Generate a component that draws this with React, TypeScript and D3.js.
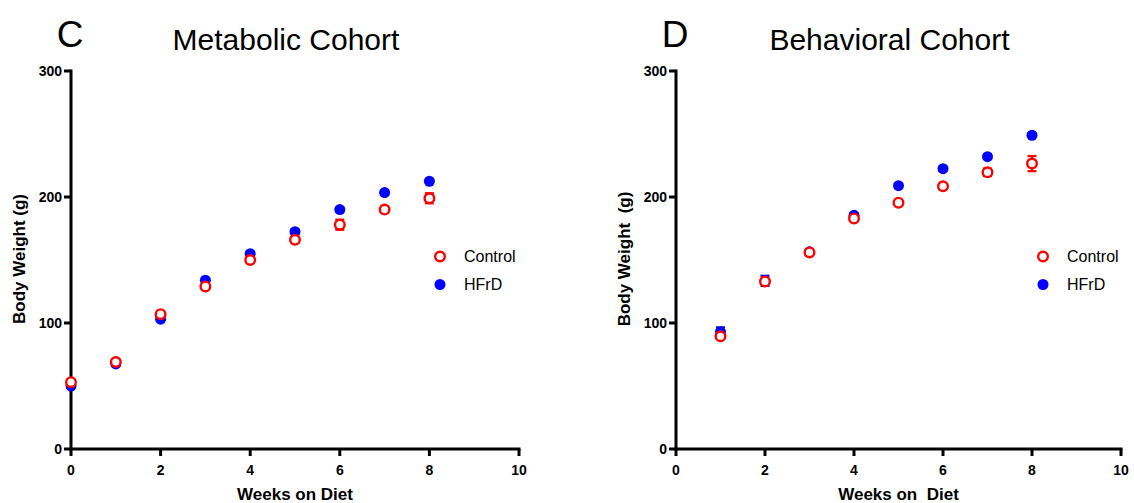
import React from "react";
import * as d3 from "d3";

const xTicks = [0, 2, 4, 6, 8, 10];
const yTicks = [0, 100, 200, 300];

const metWeeks = [0, 1, 2, 3, 4, 5, 6, 7, 8];
const metControl = [53, 69, 107, 129, 150, 166, 178, 190, 199];
const metControlErr = [2, 2, 2, 2, 2, 2, 4, 2, 4];
const metHFrD = [50, 67.5, 103, 134, 155, 172.5, 190, 203.5, 212.5];
const metHFrDErr = [1.5, 1.5, 1.5, 1.5, 1.5, 1.5, 1.5, 1.5, 1.5];

const behWeeks = [1, 2, 3, 4, 5, 6, 7, 8];
const behControl = [89.5, 133, 156, 183, 195.5, 208.5, 219.6, 226.5];
const behControlErr = [2, 2, 1.5, 2, 1.5, 1.5, 3, 6];
const behHFrD = [93, 133.5, 156.5, 185.5, 209, 222.5, 232, 249];
const behHFrDErr = [3.5, 4, 1.5, 1.5, 1.5, 1.5, 1.5, 1.5];

const seriesNames = ["Control", "HFrD"];

const RED = "#ff0000";
const BLUE = "#0000ff";
const FONT = "Arial, 'Liberation Sans', Helvetica, sans-serif";

type PanelProps = {
  x0: number;
  x1: number;
  letter: string;
  title: string;
  yLabel: string;
  xLabel: string;
  weeks: number[];
  control: number[];
  controlErr: number[];
  hfrd: number[];
  hfrdErr: number[];
  legendX: number;
};

function Panel(p: PanelProps) {
  const x = d3.scaleLinear().domain([0, 10]).range([p.x0, p.x1]);
  const y = d3.scaleLinear().domain([0, 300]).range([449, 71]);
  const aw = 3;
  const tl = 7;
  const cap = 4.5;
  const r = 5;
  const midX = (p.x0 + p.x1) / 2;
  const errBars = (vals: number[], errs: number[], color: string) =>
    p.weeks.map((w, i) => {
      const cx = x(w);
      const yt = y(vals[i] + errs[i]);
      const yb = y(vals[i] - errs[i]);
      return (
        <g key={i} stroke={color} strokeWidth={2.2}>
          <line x1={cx} x2={cx} y1={yt} y2={yb} />
          <line x1={cx - cap} x2={cx + cap} y1={yt} y2={yt} />
          <line x1={cx - cap} x2={cx + cap} y1={yb} y2={yb} />
        </g>
      );
    });
  return (
    <g fontFamily={FONT}>
      <text x={p.x0 - 1} y={47} fontSize={37} textAnchor="middle">{p.letter}</text>
      <text x={midX - 9} y={50} fontSize={30} textAnchor="middle">{p.title}</text>
      {/* y axis */}
      <line x1={p.x0} x2={p.x0} y1={y(300) - aw / 2} y2={y(0) + aw / 2} stroke="#000" strokeWidth={aw} />
      {yTicks.map((t) => (
        <g key={t}>
          <line x1={p.x0 - tl} x2={p.x0} y1={y(t)} y2={y(t)} stroke="#000" strokeWidth={aw} />
          <text x={p.x0 - tl - 2} y={y(t)} dy="0.36em" fontSize={14} fontWeight="bold" textAnchor="end">{t}</text>
        </g>
      ))}
      {/* x axis */}
      <line x1={p.x0 - aw / 2} x2={p.x1 + aw / 2} y1={y(0)} y2={y(0)} stroke="#000" strokeWidth={aw} />
      {xTicks.map((t) => (
        <g key={t}>
          <line x1={x(t)} x2={x(t)} y1={y(0)} y2={y(0) + tl} stroke="#000" strokeWidth={aw} />
          <text x={x(t)} y={y(0) + 26} fontSize={14} fontWeight="bold" textAnchor="middle">{t}</text>
        </g>
      ))}
      <text x={midX} y={500} fontSize={17} fontWeight="bold" textAnchor="middle" style={{ whiteSpace: "pre" }}>{p.xLabel}</text>
      <text transform={`translate(${p.x0 - 46},${y(150) - 1}) rotate(-90)`} fontSize={17} fontWeight="bold" textAnchor="middle" style={{ whiteSpace: "pre" }}>{p.yLabel}</text>
      {/* data */}
      {errBars(p.hfrd, p.hfrdErr, BLUE)}
      {p.weeks.map((w, i) => (
        <circle key={"h" + i} cx={x(w)} cy={y(p.hfrd[i])} r={r + 0.5} fill={BLUE} />
      ))}
      {errBars(p.control, p.controlErr, RED)}
      {p.weeks.map((w, i) => (
        <circle key={"c" + i} cx={x(w)} cy={y(p.control[i])} r={r - 0.2} fill="#fff" stroke={RED} strokeWidth={2.4} />
      ))}
      {/* legend */}
      <circle cx={p.legendX} cy={256.5} r={r - 0.2} fill="#fff" stroke={RED} strokeWidth={2.4} />
      <text x={p.legendX + 24} y={256.5} dy="0.35em" fontSize={16}>{seriesNames[0]}</text>
      <circle cx={p.legendX} cy={284.5} r={r + 0.5} fill={BLUE} />
      <text x={p.legendX + 24} y={284.5} dy="0.35em" fontSize={16}>{seriesNames[1]}</text>
    </g>
  );
}

export default function App() {
  return (
    <svg width={1134} height={503} style={{ position: "absolute", left: 0, top: 0, background: "#fff" }}>
      <rect width={1134} height={503} fill="#fff" />
      <Panel
        x0={71}
        x1={519}
        letter="C"
        title="Metabolic Cohort"
        yLabel="Body Weight (g)"
        xLabel="Weeks on Diet"
        weeks={metWeeks}
        control={metControl}
        controlErr={metControlErr}
        hfrd={metHFrD}
        hfrdErr={metHFrDErr}
        legendX={440}
      />
      <Panel
        x0={676}
        x1={1121}
        letter="D"
        title="Behavioral Cohort"
        yLabel="Body Weight  (g)"
        xLabel="Weeks on  Diet"
        weeks={behWeeks}
        control={behControl}
        controlErr={behControlErr}
        hfrd={behHFrD}
        hfrdErr={behHFrDErr}
        legendX={1043}
      />
    </svg>
  );
}
